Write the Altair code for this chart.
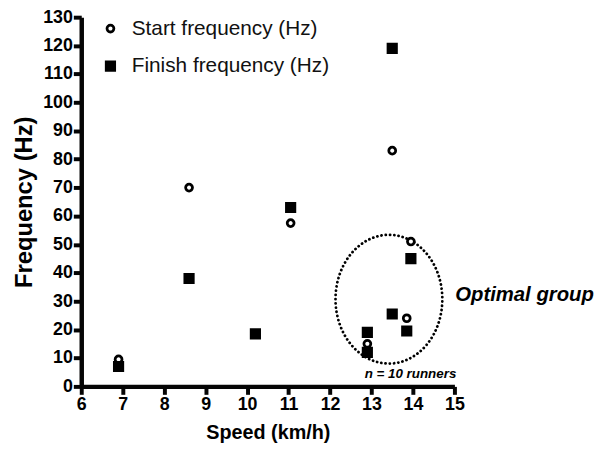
import altair as alt
import pandas as pd

# Runner data
speed = [6.9, 8.6, 10.2, 11.05, 12.9, 12.9, 13.5, 13.5, 13.85, 13.95]
start_freq = [9.5, 70, 18.5, 57.5, 15, 19, 83, 25.5, 24, 51]
finish_freq = [7, 38, 18.5, 63, 12, 19, 119, 25.5, 19.5, 45]

series_names = ["Start frequency (Hz)", "Finish frequency (Hz)"]
x_ticks = list(range(6, 16))
y_ticks = list(range(0, 131, 10))

rows = []
for s, f in zip(speed, start_freq):
    rows.append({"speed": s, "freq": f, "series": series_names[0], "ord": 0})
for s, f in zip(speed, finish_freq):
    rows.append({"speed": s, "freq": f, "series": series_names[1], "ord": 1})
df = pd.DataFrame(rows)

# Annotation: dotted ellipse around the optimal group
ellipse_df = pd.DataFrame({"speed": [13.42], "freq": [30.7]})
labels_df = pd.DataFrame({
    "speed": [15.02, 13.94],
    "freq": [32, 4.3],
    "text": ["Optimal group", "n = 10 runners"],
})

xscale = alt.Scale(domain=[6, 15], nice=False, zero=False)
yscale = alt.Scale(domain=[0, 130], nice=False)

axis_style = dict(
    grid=False, domainColor="#050505", domainWidth=4.5, domainOpacity=1,
    ticks=True, tickColor="#050505", tickWidth=4, tickOpacity=1, tickSize=8,
    labelFlush=False, labelOverlap=False, zindex=1,
    labelFont="Liberation Sans", labelFontWeight=700, labelFontSize=18,
    labelColor="#000000", labelPadding=1, titleFont="Liberation Sans", titleFontWeight="bold",
    titleColor="#000000",
)
x_axis = alt.Axis(values=x_ticks, title="Speed (km/h)", titleFontSize=20, titlePadding=10, **axis_style)
y_axis = alt.Axis(values=y_ticks, title="Frequency (Hz)", titleFontSize=24, titlePadding=6, **axis_style)

points = alt.Chart(df).mark_point(filled=True, stroke="black", strokeWidth=2.8, opacity=1).encode(
    x=alt.X("speed:Q", scale=xscale, axis=x_axis),
    y=alt.Y("freq:Q", scale=yscale, axis=y_axis),
    shape=alt.Shape("series:N", scale=alt.Scale(domain=series_names, range=["circle", "square"]),
                    legend=alt.Legend(title=None, orient="none", legendX=19, legendY=1,
                                      labelFontSize=21, labelFont="Liberation Sans",
                                      labelColor="#111111", rowPadding=16, labelOffset=11,
                                      labelLimit=0,
                                      symbolStrokeColor="black", symbolStrokeWidth=2.8,
                                      padding=0)),
    fill=alt.Fill("series:N", scale=alt.Scale(domain=series_names, range=["white", "black"])),
    size=alt.Size("series:N", scale=alt.Scale(domain=series_names, range=[48, 72])),
    order=alt.Order("ord:Q"),
)

ellipse = alt.Chart(ellipse_df).mark_point(
    shape="M -0.83 0 A 0.83 1 0 1 1 0.83 0 A 0.83 1 0 1 1 -0.83 0 Z",
    size=16900, filled=False, stroke="black", strokeWidth=2.8,
    strokeDash=[0.1, 4.2], strokeCap="round", opacity=1,
).encode(x=alt.X("speed:Q", scale=xscale, axis=x_axis), y=alt.Y("freq:Q", scale=yscale, axis=y_axis))

texts_opt = alt.Chart(labels_df.iloc[[0]]).mark_text(
    fontStyle="italic", fontWeight="bold", font="Liberation Sans", color="black",
    align="left", baseline="middle", fontSize=20.5,
).encode(x=alt.X("speed:Q", scale=xscale, axis=x_axis), y=alt.Y("freq:Q", scale=yscale, axis=y_axis), text="text:N")

texts_n = alt.Chart(labels_df.iloc[[1]]).mark_text(
    fontStyle="italic", fontWeight="bold", font="Liberation Sans", color="black",
    align="center", baseline="middle", fontSize=13.5,
).encode(x=alt.X("speed:Q", scale=xscale, axis=x_axis), y=alt.Y("freq:Q", scale=yscale, axis=y_axis), text="text:N")

chart = alt.layer(ellipse, points, texts_opt, texts_n).properties(
    width=377, height=373,
    autosize=alt.AutoSizeParams(type="none"),
    padding={"left": 74, "top": 7, "right": 141, "bottom": 64},
).configure_view(stroke=None).configure_axis(
    domainColor="#050505", domainWidth=4.5, tickColor="#050505", tickWidth=4, tickSize=8,
    labelFontWeight=700, labelFontSize=18, labelColor="#000000", ticks=True,
)

chart.save("out.html", embed_options={"renderer": "svg", "actions": False})
